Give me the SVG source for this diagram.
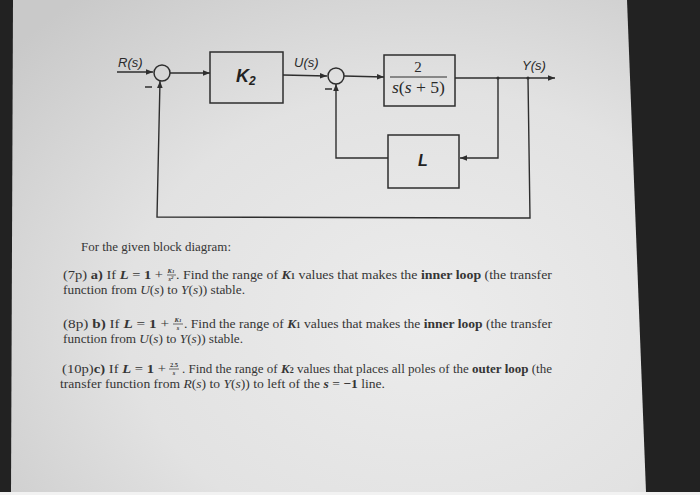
<svg xmlns="http://www.w3.org/2000/svg" width="700" height="495" viewBox="0 0 700 495">
<style>
.ln{fill:none;stroke:#2e2e2e;stroke-width:1.4}
.blk{fill:none;stroke:#2e2e2e;stroke-width:1.5}
.lbl{font-family:"Liberation Sans",Arial,sans-serif;font-style:italic;font-size:13px;fill:#2a2a2a}
.big{font-family:"Liberation Sans",Arial,sans-serif;font-style:italic;font-weight:bold;fill:#222}
.ser{font-family:"Liberation Serif","Times New Roman",serif;fill:#2a2a2a}
.tx{font-family:"Liberation Serif","Times New Roman",serif;font-size:13px;fill:#353535}
.fr{font-family:"Liberation Serif","Times New Roman",serif;font-size:6.5px;fill:#353535;font-weight:bold}
.b{font-weight:bold}
.i{font-style:italic}
</style>
<defs>
<radialGradient id="pg" cx="0.65" cy="0.65" r="0.85">
<stop offset="0" stop-color="#ececec"/>
<stop offset="0.55" stop-color="#e2e2e2"/>
<stop offset="1" stop-color="#c9c9c9"/>
</radialGradient>
<marker id="ar" viewBox="0 0 10 10" refX="10" refY="5" markerWidth="7" markerHeight="7" markerUnits="userSpaceOnUse" orient="auto">
<path d="M0,1 L10,5 L0,9 Z" fill="#2e2e2e"/>
</marker>
</defs>
<rect x="0" y="0" width="700" height="495" fill="#222222"/>
<polygon points="13,0 627,0 646,492 11,492" fill="url(#pg)"/>
<rect x="0" y="492" width="700" height="3" fill="#f2f2f2"/>

<g id="connectors">
<path class="ln" d="M117,72 L153,72" marker-end="url(#ar)"/>
<path class="ln" d="M170,73 L210,73" marker-end="url(#ar)"/>
<path class="ln" d="M283,75 L327,76" marker-end="url(#ar)"/>
<path class="ln" d="M344,76 L384,77" marker-end="url(#ar)"/>
<path class="ln" d="M455,78 L555,78" marker-end="url(#ar)"/>
<path class="ln" d="M498,78 L498,158 L460,158" marker-end="url(#ar)"/>
<path class="ln" d="M388,158 L336,158 L336,84" marker-end="url(#ar)"/>
<path class="ln" d="M528,78 L530,218 L157,217 L160,81" marker-end="url(#ar)"/>
<circle cx="498" cy="78" r="1.6" fill="#2e2e2e"/>
<circle cx="528" cy="78" r="1.6" fill="#2e2e2e"/>
</g>

<g id="sum1">
<circle class="blk" cx="162" cy="73" r="8"/>
<line x1="145" y1="87" x2="152" y2="87" stroke="#2e2e2e" stroke-width="1.5"/>
</g>
<g id="sum2">
<circle class="blk" cx="336" cy="76" r="8"/>
<line x1="325" y1="89" x2="332" y2="89" stroke="#2e2e2e" stroke-width="1.5"/>
</g>
<g id="K2">
<rect class="blk" x="210" y="52" width="73" height="51"/>
<text class="big" x="236" y="82" font-size="18">K<tspan font-size="12" dy="3">2</tspan></text>
</g>
<g id="plant">
<rect class="blk" x="384" y="55" width="71" height="51"/>
<text class="ser" x="418" y="72" font-size="15" text-anchor="middle">2</text>
<line x1="390" y1="77" x2="447" y2="77" stroke="#2e2e2e" stroke-width="1"/>
<text class="ser" x="392" y="93" font-size="16" textLength="53" lengthAdjust="spacingAndGlyphs" font-style="italic">s<tspan font-style="normal">(</tspan>s<tspan font-style="normal"> + 5)</tspan></text>
</g>
<g id="L">
<rect class="blk" x="388" y="135" width="71" height="53"/>
<text class="big" x="423" y="166" font-size="16" text-anchor="middle">L</text>
</g>
<g id="labels">
<text class="lbl" x="118" y="67">R(s)</text>
<text class="lbl" x="294" y="67">U(s)</text>
<text class="lbl" x="522" y="70">Y(s)</text>
</g>

<g id="text">
<text class="tx" x="81" y="251" textLength="150" lengthAdjust="spacingAndGlyphs">For the given block diagram:</text>

<text class="tx" x="63" y="279" textLength="100" lengthAdjust="spacingAndGlyphs">(7p) <tspan class="b">a)</tspan> If <tspan class="i b">L</tspan> = <tspan class="b">1</tspan> +</text>
<text class="fr" x="171" y="273" text-anchor="middle" font-style="italic">K<tspan font-size="5">1</tspan></text>
<line x1="167" y1="275" x2="176" y2="275" stroke="#353535" stroke-width="0.7"/>
<text class="fr" x="171" y="281" text-anchor="middle" font-style="italic">s<tspan font-size="5" dy="-2">2</tspan></text>
<text class="tx" x="176" y="279" textLength="376" lengthAdjust="spacingAndGlyphs">. Find the range of <tspan class="i b">K</tspan><tspan font-size="8" class="b">1</tspan> values that makes the <tspan class="b">inner loop</tspan> (the transfer</text>
<text class="tx" x="63" y="294" textLength="182" lengthAdjust="spacingAndGlyphs">function from <tspan class="i">U</tspan>(<tspan class="i">s</tspan>) to <tspan class="i">Y</tspan>(<tspan class="i">s</tspan>)) stable.</text>

<text class="tx" x="63" y="328" textLength="106" lengthAdjust="spacingAndGlyphs">(8p) <tspan class="b">b)</tspan> If <tspan class="i b">L</tspan> = <tspan class="b">1</tspan> +</text>
<text class="fr" x="178" y="322" text-anchor="middle" font-style="italic">K<tspan font-size="5">1</tspan></text>
<line x1="173" y1="324" x2="183" y2="324" stroke="#353535" stroke-width="0.7"/>
<text class="fr" x="178" y="330" text-anchor="middle" font-style="italic">s</text>
<text class="tx" x="184" y="328" textLength="368" lengthAdjust="spacingAndGlyphs">. Find the range of <tspan class="i b">K</tspan><tspan font-size="8" class="b">1</tspan> values that makes the <tspan class="b">inner loop</tspan> (the transfer</text>
<text class="tx" x="63" y="343" textLength="180" lengthAdjust="spacingAndGlyphs">function from <tspan class="i">U</tspan>(<tspan class="i">s</tspan>) to <tspan class="i">Y</tspan>(<tspan class="i">s</tspan>)) stable.</text>

<text class="tx" x="62" y="373" textLength="104" lengthAdjust="spacingAndGlyphs">(10p)<tspan class="b">c)</tspan> If <tspan class="i b">L</tspan> = <tspan class="b">1</tspan> +</text>
<text class="fr" x="174" y="367" text-anchor="middle">2.5</text>
<line x1="169" y1="369" x2="179" y2="369" stroke="#353535" stroke-width="0.7"/>
<text class="fr" x="174" y="375" text-anchor="middle" font-style="italic">s</text>
<text class="tx" x="182" y="373" textLength="370" lengthAdjust="spacingAndGlyphs">. Find the range of <tspan class="i b">K</tspan><tspan font-size="8" class="b">2</tspan> values that places all poles of the <tspan class="b">outer loop</tspan> (the</text>
<text class="tx" x="60" y="388" textLength="325" lengthAdjust="spacingAndGlyphs">transfer function from <tspan class="i">R</tspan>(<tspan class="i">s</tspan>) to <tspan class="i">Y</tspan>(<tspan class="i">s</tspan>)) to left of the <tspan class="i b">s</tspan> = <tspan class="b">−1</tspan> line.</text>
</g>
</svg>
